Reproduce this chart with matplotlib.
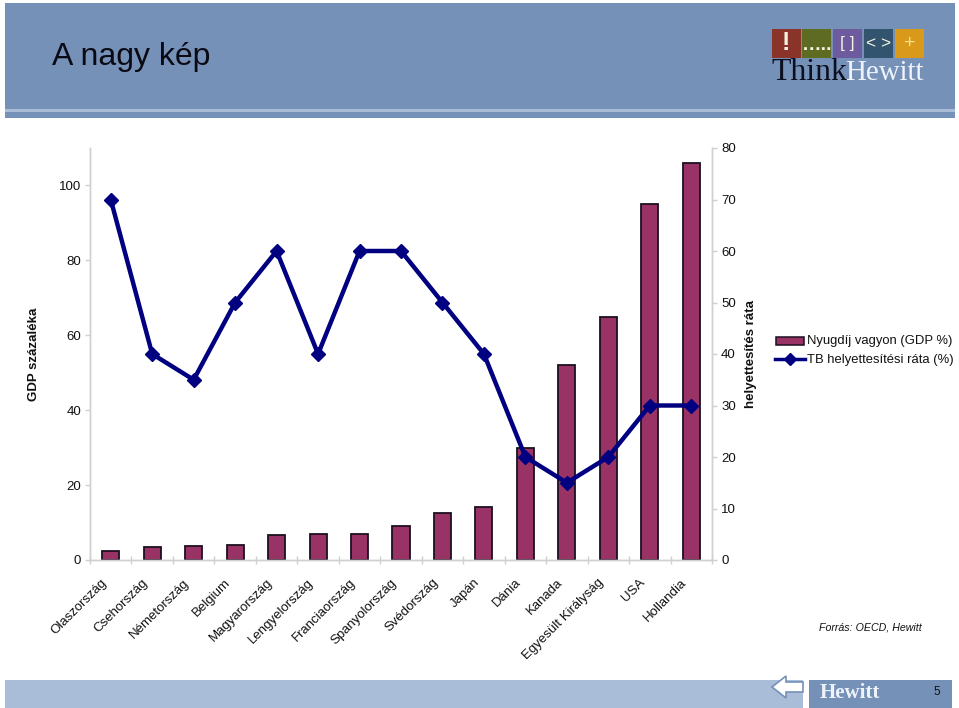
import matplotlib
matplotlib.use("Agg")
import matplotlib.pyplot as plt
from matplotlib.patches import Rectangle, Polygon
from matplotlib.lines import Line2D

plt.rcParams['font.family'] = ['Liberation Sans', 'DejaVu Sans']

countries = ["Olaszország", "Csehország", "Németország", "Belgium", "Magyarország",
             "Lengyelország", "Franciaország", "Spanyolország", "Svédország", "Japán",
             "Dánia", "Kanada", "Egyesült Királyság", "USA", "Hollandia"]
pension_assets = [2.4, 3.6, 3.8, 4.1, 6.8, 7.0, 7.0, 9.0, 12.6, 14.2, 30, 52, 65, 95, 106]
replacement_rate = [70, 40, 35, 50, 60, 40, 60, 60, 50, 40, 20, 15, 20, 30, 30]
left_ticks = [0, 20, 40, 60, 80, 100]
right_ticks = [0, 10, 20, 30, 40, 50, 60, 70, 80]
logo_colors = ["#8A3328", "#5E6B22", "#6E5A9E", "#33546F", "#D99A1C"]
logo_signs = ["!", "…..", "[ ]", "< >", "+"]

W, H = 959, 708
fig = plt.figure(figsize=(W / 100, H / 100), dpi=100, facecolor="white")

def box(x0, y0, x1, y1, **kw):
    return fig.add_artist(Rectangle((x0 / W, 1 - y1 / H), (x1 - x0) / W, (y1 - y0) / H,
                                    transform=fig.transFigure, lw=0, **kw))

def label(x, y, s, **kw):
    return fig.text(x / W, 1 - y / H, s, **kw)

# header band
box(5, 3, 955, 118, color="#7691B8")
box(5, 109, 955, 112, color="#A9BDD8")
label(52, 57, "A nagy kép", fontsize=23, color="#0A0A14", va="center", ha="left")

# logo
for i, (c, s) in enumerate(zip(logo_colors, logo_signs)):
    x0 = 771.5 + i * 30.9
    box(x0, 29, x0 + 29, 58, color=c)
    label(x0 + 14.5, 43.5 if i != 1 else 46, s, color="#F4F1E0" if i != 4 else "#F7E08A",
          fontsize=18 if i == 0 else 14 if i in (1, 4) else 12.5,
          fontweight="bold" if i < 2 else "normal", ha="center", va="center")
label(771, 73, "Think", fontsize=22.9, family="Liberation Serif", color="#0B0F22", va="center", ha="left")
label(845, 73, "Hewitt", fontsize=20.8, family="Liberation Serif", color="#EEF3FA", va="center", ha="left")

# footer band
box(5, 680, 803, 708, color="#A9BDD8")
box(809, 680, 952, 708, color="#7691B8")
arrow_pts = [(803, 682), (786, 682), (786, 676), (772, 687), (786, 698), (786, 692), (803, 692)]
fig.add_artist(Polygon([(x / W, 1 - y / H) for x, y in arrow_pts], closed=True,
                       transform=fig.transFigure, fc="white", ec="#7691B8", lw=1.2))
label(820, 693, "Hewitt", fontsize=15, fontweight="bold", family="Liberation Serif",
      color="#EEF3FA", va="center", ha="left")
label(937, 692, "5", fontsize=8.5, color="#111111", va="center", ha="center")

# chart
x_left, x_right, y_top, y_bottom = 90, 712, 148, 560
ax = fig.add_axes([x_left / W, 1 - y_bottom / H, (x_right - x_left) / W, (y_bottom - y_top) / H])
ax2 = ax.twinx()
xs = list(range(len(countries)))

ax.bar(xs, pension_assets, width=0.41, color="#993366", edgecolor="#1C1020", linewidth=1.3)
ax.set_xlim(-0.5, len(countries) - 0.5)
ax.set_ylim(0, 110)
ax.set_yticks(left_ticks)
ax.set_xticks([i - 0.5 for i in range(len(countries) + 1)])
ax.set_xticklabels([])

ax2.plot(xs, replacement_rate, color="#000080", lw=3.2, marker="D", ms=7, mfc="#000080", mec="#000080")
ax2.set_ylim(0, 80)
ax2.set_yticks(right_ticks)

for a in (ax, ax2):
    a.patch.set_visible(False)
    a.spines["top"].set_visible(False)
    for side in ("left", "right", "bottom"):
        a.spines[side].set_color("#D0D0D0")
        a.spines[side].set_linewidth(1)
    a.tick_params(axis="both", which="major", color="#D0D0D0", length=3.5, width=1,
                  labelsize=9.5, pad=3, direction="out", labelcolor="#111111")
ax.tick_params(axis="x", direction="inout", length=6)

for i, name in enumerate(countries):
    ax.annotate(name, xy=(i, 0), xycoords=("data", "axes fraction"), xytext=(-7.5, -12),
                textcoords="offset points", rotation=45, rotation_mode="anchor",
                ha="right", va="top", fontsize=9.5, color="#111111")

label(34, 354, "GDP százaléka", rotation=90, fontsize=9.5, fontweight="bold", ha="center", va="center", color="#111111")
label(751, 354, "helyettesítés ráta", rotation=90, fontsize=9.5, fontweight="bold", ha="center", va="center", color="#111111")

# legend
fig.add_artist(Rectangle((776 / W, 1 - 344.5 / H), 28 / W, 7.5 / H, transform=fig.transFigure,
                         fc="#993366", ec="#1C1020", lw=1.1))
fig.add_artist(Line2D([775 / W, 805 / W], [1 - 359 / H] * 2, transform=fig.transFigure,
                      color="#000080", lw=2.5))
fig.add_artist(Line2D([790 / W], [1 - 359 / H], transform=fig.transFigure,
                      color="#000080", marker="D", ms=6, ls="none"))
label(807, 341, "Nyugdíj vagyon (GDP %)", fontsize=9.35, color="#111111", va="center", ha="left")
label(807, 360, "TB helyettesítési ráta (%)", fontsize=9.35, color="#111111", va="center", ha="left")

label(819, 628, "Forrás: OECD, Hewitt", fontsize=7.7, style="italic", color="#111111", va="center", ha="left")

fig.savefig("out.png", dpi=100)
